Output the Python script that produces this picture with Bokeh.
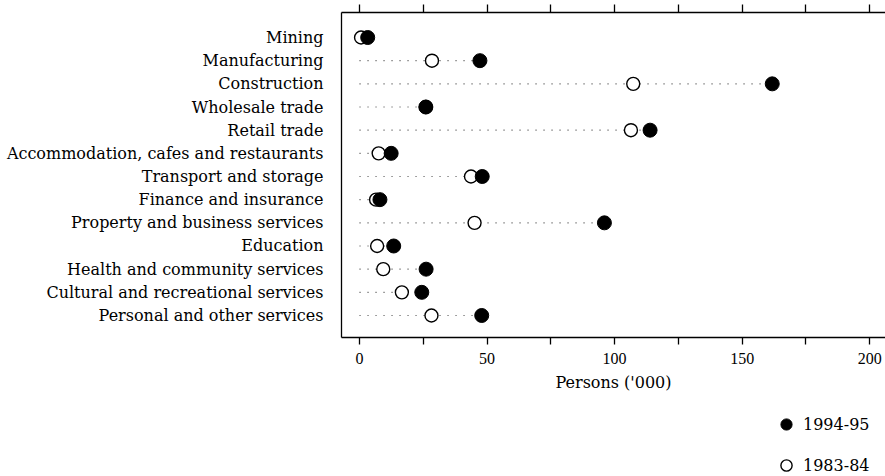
from bokeh.plotting import figure
from bokeh.layouts import column
from bokeh.models import Range1d, LinearAxis, FixedTicker, Legend, LegendItem, ColumnDataSource
from bokeh.embed import file_html
from bokeh.resources import INLINE

industries = [
    "Mining",
    "Manufacturing",
    "Construction",
    "Wholesale trade",
    "Retail trade",
    "Accommodation, cafes and restaurants",
    "Transport and storage",
    "Finance and insurance",
    "Property and business services",
    "Education",
    "Health and community services",
    "Cultural and recreational services",
    "Personal and other services",
]
persons_1983_84 = [0.6, 28.4, 107.3, 26.0, 106.4, 7.5, 43.7, 6.5, 45.1, 6.9, 9.3, 16.6, 28.2]
persons_1994_95 = [3.2, 47.2, 161.8, 26.0, 113.9, 12.4, 48.1, 8.0, 96.0, 13.4, 26.1, 24.4, 47.9]
x_ticks = [0, 25, 50, 75, 100, 125, 150, 175, 200]
x_tick_labels = ["0", "", "50", "", "100", "", "150", "", "200"]
series_labels = ["1994-95", "1983-84"]

n = len(industries)
ypos = [n - 1 - i for i in range(n)]
src = ColumnDataSource(dict(
    y=ypos,
    zero=[0] * n,
    v83=persons_1983_84,
    v94=persons_1994_95,
    vmax=[max(a, b) for a, b in zip(persons_1983_84, persons_1994_95)],
))

LABEL_FONT = "DejaVu Serif"
FRAME_LEFT = 341

p = figure(width=885, height=400, output_backend="svg", toolbar_location=None,
           x_range=Range1d(-7.07, 206.2), y_range=Range1d(-0.95, 13.08),
           x_axis_type=None, y_axis_type=None,
           min_border_left=FRAME_LEFT, min_border_right=0, min_border_top=12, min_border_bottom=63)
p.outline_line_color = None
p.background_fill_color = "white"
p.border_fill_color = "white"

bottom = LinearAxis(ticker=FixedTicker(ticks=x_ticks, minor_ticks=[]),
                    major_label_overrides={t: l for t, l in zip(x_ticks, x_tick_labels)},
                    axis_label="Persons ('000)")
bottom.axis_line_color = "black"
bottom.axis_line_width = 1.3
bottom.major_tick_line_color = "black"
bottom.major_tick_line_width = 1.3
bottom.major_tick_out = 7
bottom.major_tick_in = 0
bottom.minor_tick_line_color = None
bottom.major_label_text_font = "Liberation Serif"
bottom.major_label_text_font_size = "16px"
bottom.major_label_text_color = "black"
bottom.major_label_standoff = 8
bottom.axis_label_text_font = LABEL_FONT
bottom.axis_label_text_font_size = "16px"
bottom.axis_label_text_font_style = "normal"
bottom.axis_label_text_color = "black"
bottom.axis_label_standoff = 6
p.add_layout(bottom, "below")

top = LinearAxis(ticker=FixedTicker(ticks=x_ticks, minor_ticks=[]),
                 major_label_overrides={t: "" for t in x_ticks})
top.axis_line_color = "black"
top.axis_line_width = 1.3
top.major_tick_line_color = "black"
top.major_tick_line_width = 1.3
top.major_tick_out = 8
top.major_tick_in = 0
top.minor_tick_line_color = None
top.major_label_standoff = 0
top.major_label_text_font_size = "1px"
p.add_layout(top, "above")

left = LinearAxis(ticker=FixedTicker(ticks=ypos, minor_ticks=[]),
                  major_label_overrides={y: name for y, name in zip(ypos, industries)})
left.axis_line_color = "black"
left.axis_line_width = 1.3
left.major_tick_line_color = None
left.minor_tick_line_color = None
left.major_tick_out = 0
left.major_tick_in = 0
left.major_label_standoff = 18
left.major_label_text_font = LABEL_FONT
left.major_label_text_font_size = "16px"
left.major_label_text_color = "black"
p.add_layout(left, "left")

p.segment(x0="zero", y0="y", x1="vmax", y1="y", source=src,
          line_color="#444444", line_width=1.2, line_dash="1 7")

open_style = dict(marker="circle", fill_color="white", line_color="black", line_width=1.4)
fill_style = dict(marker="circle", fill_color="black", line_color="black", line_width=1)

p.scatter(x="v83", y="y", source=src, size=13, **open_style)
p.scatter(x="v94", y="y", source=src, size=14, **fill_style)

# Legend panel below the chart (its frame is aligned with the chart's frame).
# Its ranges lie outside the data, so the proxy renderers only feed the legend.
lg = figure(width=885, height=76, output_backend="svg", toolbar_location=None,
            x_range=Range1d(-1000, -999), y_range=Range1d(-1000, -999),
            x_axis_type=None, y_axis_type=None,
            min_border_left=FRAME_LEFT, min_border_right=0, min_border_top=0, min_border_bottom=0)
lg.outline_line_color = None
lg.background_fill_color = "white"
lg.border_fill_color = "white"
fill_lg = lg.scatter(x="v94", y="y", source=src, size=14, **fill_style)
open_lg = lg.scatter(x="v83", y="y", source=src, size=13, **open_style)

legend = Legend(items=[LegendItem(label=series_labels[0], renderers=[fill_lg]),
                       LegendItem(label=series_labels[1], renderers=[open_lg])],
                location=(772 - FRAME_LEFT, -3), orientation="vertical",
                glyph_width=28, glyph_height=28, spacing=13, padding=0, margin=0,
                label_standoff=3,
                label_text_font=LABEL_FONT, label_text_font_size="16px",
                label_text_color="black",
                border_line_color=None, background_fill_alpha=0)
lg.add_layout(legend, "center")

open("out.html", "w").write(file_html(column(p, lg, spacing=0), INLINE))
